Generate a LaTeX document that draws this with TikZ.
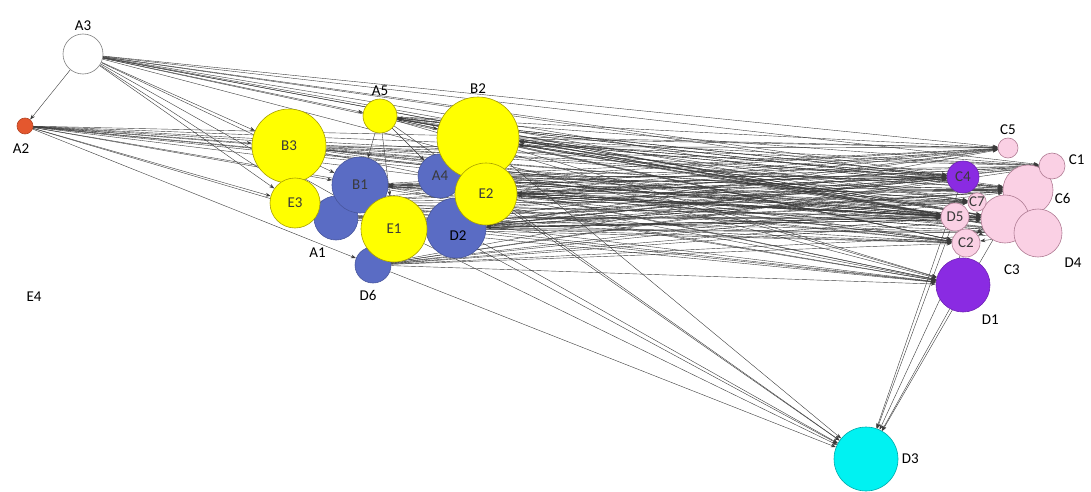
\documentclass[tikz,border=0pt]{standalone}
\usepackage{fontspec}
\setmainfont{Carlito}
\usetikzlibrary{arrows.meta,backgrounds}
\definecolor{netYellow}{HTML}{FFFF00}
\definecolor{netYellowLine}{HTML}{A89F00}
\definecolor{netBlue}{HTML}{5A6CC4}
\definecolor{netViolet}{HTML}{8A2BE2}
\definecolor{netPink}{HTML}{FAD0E4}
\definecolor{netPinkLine}{HTML}{B07C94}
\definecolor{netCyan}{HTML}{00F2F2}
\definecolor{netOrange}{HTML}{E4572E}
\definecolor{netGray}{HTML}{3A3A3A}
\tikzset{
  netArrow/.style={-{Stealth[length=1.8mm,width=1.3mm]}, line width=0.4pt, draw=netGray},
  netNode/.style={
    circle,
    draw,
    line width=0.6pt,
    inner sep=0pt,
    text=netGray,
    label distance=1pt
  },
  yellowNode/.style={netNode, fill=netYellow, draw=netYellowLine},
  blueNode/.style={netNode, fill=netBlue, draw=netBlue!80!black},
  violetNode/.style={netNode, fill=netViolet, draw=netViolet!80!black},
  pinkNode/.style={netNode, fill=netPink, draw=netPinkLine},
  cyanNode/.style={netNode, fill=netCyan, draw=netCyan!70!black},
  whiteNode/.style={netNode, fill=white, draw=gray},
  orangeNode/.style={netNode, fill=netOrange, draw=netOrange!80!black}
}

\begin{document}
\begin{tikzpicture}[x=1pt, y=-1pt, font=\fontsize{15}{18}\selectfont]
  \useasboundingbox (0,0) rectangle (1091,492);

  % left group
  \node[whiteNode, minimum size=40pt, label=above:A3] (A3) at (83,54) {};
  \node[orangeNode, minimum size=16pt, label={[xshift=-4pt, yshift=-6pt]below:A2}] (A2) at (25,126) {};
  \node[yellowNode, minimum size=34pt, label=above:A5] (A5) at (380,116) {};
  \node[blueNode, minimum size=44pt] (A4) at (440,176) {A4};
  \node[yellowNode, minimum size=82pt, label=above:B2] (B2) at (478,138) {};
  \node[blueNode, minimum size=60pt] (D2) at (456,228) {};
  \node[yellowNode, minimum size=62pt] (E2) at (486,194) {E2};
  \node at (458,236) {D2};
  \node[yellowNode, minimum size=74pt] (B3) at (289,146) {B3};
  \node[blueNode, minimum size=44pt, label={[xshift=9pt, yshift=-11pt]below left:A1}] (A1) at (336,218) {};
  \node[yellowNode, minimum size=50pt] (E3) at (295,203) {E3};
  \node[blueNode, minimum size=56pt] (B1) at (360,185) {B1};
  \node[blueNode, minimum size=36pt, label={[xshift=-5pt, yshift=-4pt]below:D6}] (D6) at (373,265) {};
  \node[yellowNode, minimum size=66pt] (E1) at (394,229) {E1};
  \node (E4) at (34,297) {E4};

  % right group
  \node[pinkNode, minimum size=20pt, label=above:C5] (C5) at (1008,148) {};
  \node[pinkNode, minimum size=50pt, label={[xshift=-2pt, yshift=-8pt]right:C6}] (C6) at (1028,190) {};
  \node[pinkNode, minimum size=26pt, label={[yshift=6pt]right:C1}] (C1) at (1052,166) {};
  \node[pinkNode, minimum size=48pt, label={[xshift=7pt, yshift=-18pt]below:C3}] (C3) at (1005,219) {};
  \node[pinkNode, minimum size=48pt, label={[xshift=6pt, yshift=-4pt]below right:D4}] (D4) at (1038,233) {};
  \node[violetNode, minimum size=32pt] (C4) at (963,177) {C4};
  \node[pinkNode, minimum size=28pt] (D5) at (955,217) {D5};
  \node[pinkNode, minimum size=16pt] (C7) at (977,202) {C7};
  \node[pinkNode, minimum size=28pt] (C2) at (966,243) {C2};
  \node[violetNode, minimum size=54pt, label={[xshift=-4pt, yshift=-7pt]below right:D1}] (D1) at (963,285) {};
  \node[cyanNode, minimum size=64pt, label=right:D3] (D3) at (866,459) {};

  \begin{pgfonlayer}{background}
    \foreach \src in {A2,A3,A5,B3,B1,B2,A4,E3,A1,E1,D2,E2,D6}
      \foreach \dst in {C5,C1,C4,C6,C7,D5,C3,C2,D4,D1}
        \draw[netArrow] (\src) -- (\dst);
    \foreach \src in {C4,C6,D5,C3}
      \foreach \dst in {B2,E2,A4,D2,B1,A5}
        \draw[netArrow] (\src) -- (\dst);
    \foreach \src in {B2,E2,D2,E1,A5,B1,D6}
      \draw[netArrow] (\src) -- (D3);
    \foreach \src in {D1,C2,D5,C4,C3}
      \draw[netArrow] (\src) -- (D3);
    \foreach \dst in {B3,E3,B1,A5,E1,A1}
      \draw[netArrow] (A3) -- (\dst);
    \foreach \dst in {B3,E3,A1,B1,D6}
      \draw[netArrow] (A2) -- (\dst);
    \draw[netArrow] (A3) -- (A2);
    \foreach \dst in {B1,E1,A4,B2}
      \draw[netArrow] (A5) -- (\dst);
    \foreach \src in {C6,C3,D4,C1}
      \draw[netArrow] (\src) -- (C2);
  \end{pgfonlayer}
\end{tikzpicture}
\end{document}
